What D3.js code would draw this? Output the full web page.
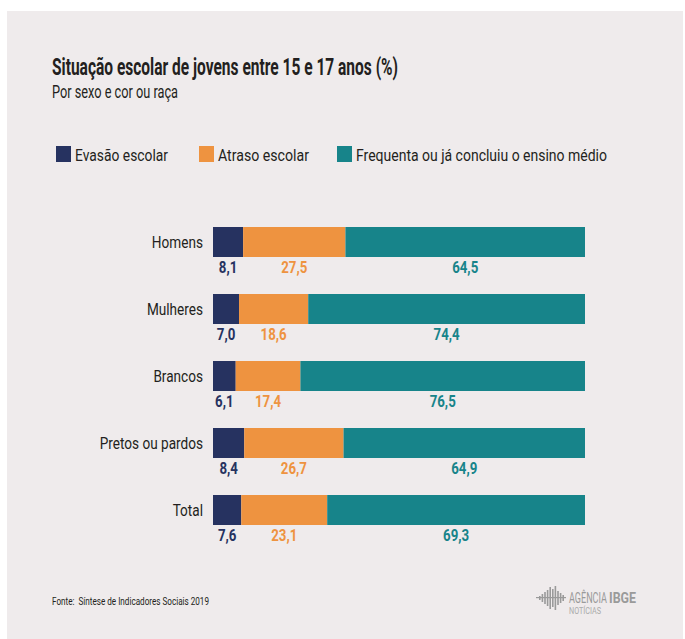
<!DOCTYPE html>
<html>
<head>
<meta charset="utf-8">
<script src="https://cdn.jsdelivr.net/npm/d3@7"></script>
<style>
  body { margin: 0; background: #fff; }
  text { font-family: "Liberation Sans Narrow", "Roboto", sans-serif; }
</style>
</head>
<body>
<div id="chart"></div>
<script>
// data
let categories = ["Homens", "Mulheres", "Brancos", "Pretos ou pardos", "Total"];
let evasao     = [8.1, 7.0, 6.1, 8.4, 7.6];
let atraso     = [27.5, 18.6, 17.4, 26.7, 23.1];
let frequenta  = [64.5, 74.4, 76.5, 64.9, 69.3];
let seriesNames = ["Evasão escolar", "Atraso escolar", "Frequenta ou já concluiu o ensino médio"];
let colors = ["#263260", "#ee9340", "#17848a"];

let W = 685, H = 639;

// squeeze text horizontally so it looks like the condensed face of the original
function condense(sel, k) {
    sel.each(function () {
        let w = this.getComputedTextLength();
        d3.select(this)
            .attr("textLength", w * k)
            .attr("lengthAdjust", "spacingAndGlyphs");
    });
}

// put a text at (x, y) squeezed to a given width with a transform
function fitText(parent, x, y, target, str, size, weight) {
    let t = parent.append("text")
        .attr("font-size", size)
        .attr("font-weight", weight || "normal")
        .text(str);
    let w = t.node().getComputedTextLength();
    t.attr("transform", "translate(" + x + "," + y + ") scale(" + (target / w) + ",1)");
    return t;
}

let svg = d3.select("#chart").append("svg")
    .attr("width", W)
    .attr("height", H);

// panel
svg.append("rect")
    .attr("x", 7).attr("y", 11)
    .attr("width", 676).attr("height", H - 11)
    .attr("fill", "#efebec");

// title + subtitle
svg.append("text")
    .attr("x", 52).attr("y", 75)
    .attr("font-size", 24)
    .attr("font-weight", "bold")
    .attr("fill", "#231f20")
    .attr("textLength", 346)
    .attr("lengthAdjust", "spacingAndGlyphs")
    .text("Situação escolar de jovens entre 15 e 17 anos (%)");

svg.append("text")
    .attr("x", 52).attr("y", 98)
    .attr("font-size", 18)
    .attr("fill", "#231f20")
    .attr("textLength", 126)
    .attr("lengthAdjust", "spacingAndGlyphs")
    .text("Por sexo e cor ou raça");

// legend
let legendX = [56, 199, 337];
let legendW = [93, 91, 251];
let legend = svg.append("g");
seriesNames.forEach(function (name, i) {
    legend.append("rect")
        .attr("x", legendX[i]).attr("y", 146)
        .attr("width", 15).attr("height", 16)
        .attr("fill", colors[i]);
    legend.append("text")
        .attr("x", legendX[i] + 19).attr("y", 161)
        .attr("font-size", 16)
        .attr("fill", "#231f20")
        .attr("textLength", legendW[i])
        .attr("lengthAdjust", "spacingAndGlyphs")
        .text(name);
});

// stacked data
let rows = categories.map(function (c, i) {
    return { cat: c, s0: evasao[i], s1: atraso[i], s2: frequenta[i] };
});
let stack = d3.stack().keys(["s0", "s1", "s2"]);
let layers = stack(rows);

let x = d3.scaleLinear().domain([0, 100]).range([213, 585]);
let y = d3.scaleBand()
    .domain(categories)
    .range([227, 525])
    .paddingInner(37 / 67)
    .paddingOuter(0);

let g = svg.append("g");

layers.forEach(function (layer, li) {
    g.selectAll(".bar" + li)
        .data(layer)
        .enter().append("rect")
        .attr("x", function (d) { return x(d[0]); })
        .attr("y", function (d) { return y(d.data.cat); })
        .attr("width", function (d) { return Math.min(x(d[1]), x(100)) - x(d[0]); })
        .attr("height", y.bandwidth())
        .attr("fill", colors[li]);

    let vals = g.selectAll(".val" + li)
        .data(layer)
        .enter().append("text")
        .attr("x", function (d) { return x((d[0] + Math.min(d[1], 100)) / 2); })
        .attr("y", function (d) { return y(d.data.cat) + y.bandwidth() + 16; })
        .attr("text-anchor", "middle")
        .attr("font-size", 17)
        .attr("font-weight", "bold")
        .attr("fill", colors[li])
        .text(function (d) { return d3.format(".1f")(d[1] - d[0]).replace(".", ","); });
    condense(vals, 0.78);
});

// category labels
let cats = g.selectAll(".cat")
    .data(categories)
    .enter().append("text")
    .attr("x", 203)
    .attr("y", function (d) { return y(d) + y.bandwidth() / 2 + 6; })
    .attr("text-anchor", "end")
    .attr("font-size", 17)
    .attr("fill", "#231f20")
    .text(function (d) { return d; });
condense(cats, 0.8);

// source
svg.append("text")
    .attr("x", 52).attr("y", 605)
    .attr("font-size", 11.5)
    .attr("fill", "#231f20")
    .attr("xml:space", "preserve")
    .attr("textLength", 157)
    .attr("lengthAdjust", "spacingAndGlyphs")
    .text("Fonte:  Síntese de Indicadores Sociais 2019");

// logo (agencia ibge)
let logo = svg.append("g").attr("fill", "#9a9a9a");
let barH = [4, 8, 12, 16, 22, 18, 24, 14, 10, 6];
barH.forEach(function (h, i) {
    logo.append("rect")
        .attr("x", 539 + i * 2.6).attr("y", 598 - h / 2)
        .attr("width", 1.6).attr("height", h);
});
logo.append("rect").attr("x", 536).attr("y", 597).attr("width", 30).attr("height", 1.2);
fitText(logo, 569, 603, 38, "AGÊNCIA", 14);
fitText(logo, 609, 603, 27, "IBGE", 14, "bold");
fitText(logo, 569, 614, 32, "NOTÍCIAS", 9).attr("fill", "#aaa");
</script>
</body>
</html>
